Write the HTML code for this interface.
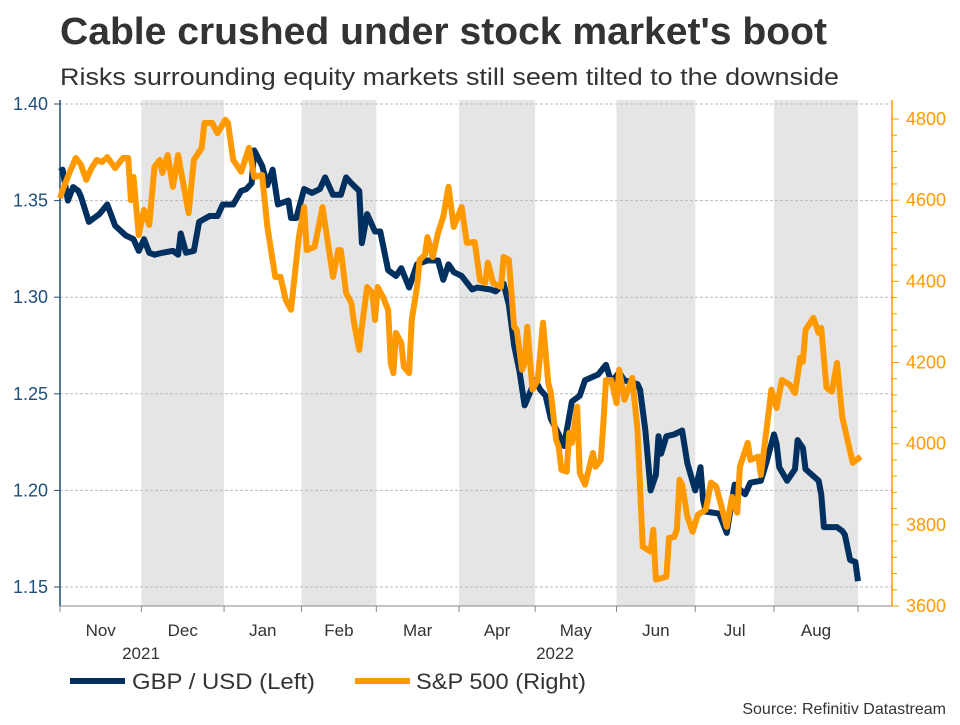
<!DOCTYPE html>
<html><head><meta charset="utf-8"><style>
body{margin:0;background:#fff;width:960px;height:720px;overflow:hidden;font-family:"Liberation Sans",sans-serif}
</style></head><body>
<svg id="c" width="960" height="720" xmlns="http://www.w3.org/2000/svg" font-family="Liberation Sans, sans-serif">
<text x="60" y="44" font-size="38" font-weight="bold" fill="#333" textLength="767" lengthAdjust="spacingAndGlyphs">Cable crushed under stock market's boot</text>
<text x="60" y="85" font-size="24" fill="#333" textLength="779" lengthAdjust="spacingAndGlyphs">Risks surrounding equity markets still seem tilted to the downside</text>
<g id="bands"></g><g id="grid"></g><g id="axes"></g><g id="lines"></g>
<line x1="70" y1="681" x2="125" y2="681" stroke="#00305f" stroke-width="6"/>
<text x="132" y="689" font-size="22" fill="#333" textLength="183" lengthAdjust="spacingAndGlyphs">GBP / USD (Left)</text>
<line x1="355" y1="681" x2="410" y2="681" stroke="#ff9900" stroke-width="6"/>
<text x="416" y="689" font-size="22" fill="#333" textLength="170" lengthAdjust="spacingAndGlyphs">S&amp;P 500 (Right)</text>
<text x="946" y="714" font-size="16" fill="#333" text-anchor="end">Source: Refinitiv Datastream</text>
</svg>
<script>
const gbpDays=[0,1,3,5,7,8,11,15,18,21,25,28,30,32,34,36,39,43,45,46,48,51,53,57,60,62,66,69,71,73,74,77,79,81,83,87,88,90,93,96,99,101,104,107,109,111,114,115,117,120,122,125,128,130,133,136,140,144,146,148,150,153,157,159,164,166,169,171,173,175,177,181,183,185,187,190,192,195,198,200,205,208,210,213,215,220,221,223,225,227,228,229,231,234,237,239,242,244,245,246,251,252,254,257,261,263,267,269,272,273,274,277,280,281,283,284,289,290,291,296,298,299,301,303,304];
const gbpValues=[1.365,1.366,1.350,1.357,1.355,1.352,1.339,1.343,1.348,1.337,1.332,1.330,1.324,1.330,1.323,1.322,1.323,1.324,1.322,1.333,1.323,1.324,1.339,1.342,1.342,1.348,1.348,1.355,1.356,1.359,1.376,1.368,1.358,1.366,1.348,1.350,1.341,1.341,1.356,1.354,1.356,1.362,1.353,1.353,1.362,1.359,1.355,1.328,1.343,1.334,1.334,1.314,1.311,1.315,1.305,1.317,1.319,1.319,1.309,1.317,1.313,1.311,1.304,1.305,1.304,1.303,1.307,1.296,1.275,1.262,1.244,1.257,1.252,1.249,1.237,1.229,1.223,1.246,1.249,1.257,1.260,1.265,1.256,1.261,1.257,1.255,1.252,1.231,1.200,1.208,1.228,1.219,1.228,1.229,1.231,1.214,1.200,1.212,1.195,1.189,1.188,1.185,1.178,1.203,1.198,1.204,1.205,1.214,1.229,1.224,1.212,1.205,1.211,1.226,1.222,1.211,1.205,1.198,1.181,1.181,1.179,1.177,1.164,1.163,1.153];
const spxDays=[0,1,4,6,8,10,12,14,16,18,21,24,26,27,28,30,32,34,36,38,39,41,43,45,49,51,54,55,58,60,63,64,66,69,72,74,77,79,82,84,86,88,91,93,94,97,100,104,106,107,109,111,112,114,115,117,119,120,121,123,125,126,127,128,130,131,133,134,136,137,139,140,142,144,146,148,150,153,155,158,160,162,163,165,168,169,171,173,174,176,177,178,180,182,184,186,187,189,190,191,193,194,195,197,198,200,203,204,206,207,208,210,212,213,215,218,220,222,225,226,227,231,232,234,235,236,237,239,241,243,246,248,250,254,256,258,259,262,263,266,267,269,271,273,275,278,280,282,283,284,287,289,290,292,294,296,298,300,302,305];
const spxValues=[4605,4625,4674,4704,4687,4650,4679,4699,4694,4706,4679,4704,4704,4600,4657,4514,4576,4539,4682,4699,4667,4711,4633,4711,4568,4699,4729,4790,4790,4765,4798,4790,4699,4670,4729,4657,4662,4534,4411,4411,4354,4330,4509,4583,4477,4485,4583,4411,4477,4477,4371,4347,4298,4231,4288,4386,4371,4305,4386,4362,4330,4199,4174,4273,4248,4189,4174,4305,4386,4453,4465,4509,4460,4519,4559,4633,4534,4583,4495,4497,4403,4396,4446,4396,4386,4460,4453,4288,4280,4182,4199,4288,4133,4157,4298,4150,4125,4009,3992,3936,3931,4027,4002,4091,3928,3899,3977,3943,3960,4051,4157,4157,4100,4182,4108,4162,4034,3746,3734,3788,3665,3672,3768,3770,3788,3911,3899,3820,3783,3825,3837,3904,3894,3795,3869,3830,3943,4002,3960,3968,3923,4027,4133,4088,4157,4145,4125,4212,4202,4280,4310,4273,4285,4138,4128,4199,4066,4009,3953,3968];
const monthLabels=["Nov","Dec","Jan","Feb","Mar","Apr","May","Jun","Jul","Aug"];
const monthStartDays=[0,31,62.5,92,120.5,152,181,212,242,272,304];
const leftTicks=[1.15,1.20,1.25,1.30,1.35,1.40];
const rightTicks=[3600,3800,4000,4200,4400,4600,4800];
const NS="http://www.w3.org/2000/svg";
const X0=60,X1=858,TOP=100,BOT=606;
const xS=d=>X0+(d-0)/(304-0)*(X1-X0);
const yL=v=>104+(1.40-v)/0.25*(587-104);
const yR=v=>606-(v-3600)/1200*(606-119);
function mk(tag,attrs,parent){const e=document.createElementNS(NS,tag);for(const k in attrs)e.setAttribute(k,attrs[k]);parent.appendChild(e);return e;}
const bands=document.getElementById('bands'),grid=document.getElementById('grid'),axes=document.getElementById('axes'),lines=document.getElementById('lines');
for(let i=1;i<monthLabels.length;i+=2){
  const r=mk('rect',{x:xS(monthStartDays[i]),y:TOP,width:xS(monthStartDays[i+1])-xS(monthStartDays[i]),height:BOT-TOP,fill:'#e5e5e5'},bands);
  
  
}
leftTicks.forEach(v=>{
  const g=mk('line',{x1:X0,x2:892,y1:yL(v),y2:yL(v),stroke:'#bbb','stroke-dasharray':'3,2','stroke-width':1},grid);
  
  
  mk('line',{x1:X0-6,x2:X0,y1:yL(v),y2:yL(v),stroke:'#1f4e79'},axes);
  const t=mk('text',{x:48,y:yL(v)+6,'font-size':18,fill:'#1f4e79','text-anchor':'end'},axes);
  t.textContent=v.toFixed(2);
  
  
});
for(let v=3600;v<=4800;v+=40){mk('line',{x1:892,x2:(v%200===0)?899:897,y1:yR(v),y2:yR(v),stroke:'#ff9900'},axes);}
rightTicks.forEach(v=>{
  const t=mk('text',{x:906,y:yR(v)+6,'font-size':18,fill:'#ff9900'},axes);
  t.textContent=v;
  
  
});
const la=mk('line',{x1:X0,x2:X0,y1:TOP,y2:BOT,stroke:'#1f4e79','stroke-width':1.5},axes);


const ra=mk('line',{x1:892,x2:892,y1:TOP,y2:BOT,stroke:'#ff9900','stroke-width':1.5},axes);


const xa=mk('line',{x1:X0,x2:892,y1:BOT,y2:BOT,stroke:'#888'},axes);


monthStartDays.forEach(d=>mk('line',{x1:xS(d),x2:xS(d),y1:BOT,y2:BOT+6,stroke:'#888'},axes));
monthLabels.forEach((m,i)=>{
  const t=mk('text',{x:(xS(monthStartDays[i])+xS(monthStartDays[i+1]))/2,y:636,'font-size':17,fill:'#333','text-anchor':'middle'},axes);
  t.textContent=m;
  
  
});
[["2021",141],["2022",555]].forEach(([y,x])=>{
  const t=mk('text',{x:x,y:659,'font-size':17,fill:'#333','text-anchor':'middle'},axes);
  t.textContent=y;
  
  
});
const pg=mk('polyline',{points:gbpDays.map((d,i)=>xS(d)+','+yL(gbpValues[i])).join(' '),fill:'none',stroke:'#00305f','stroke-width':6,'stroke-linejoin':'round'},lines);


const ps=mk('polyline',{points:spxDays.map((d,i)=>xS(d)+','+yR(spxValues[i])).join(' '),fill:'none',stroke:'#ff9900','stroke-width':6,'stroke-linejoin':'round'},lines);


</script>
</body></html>
